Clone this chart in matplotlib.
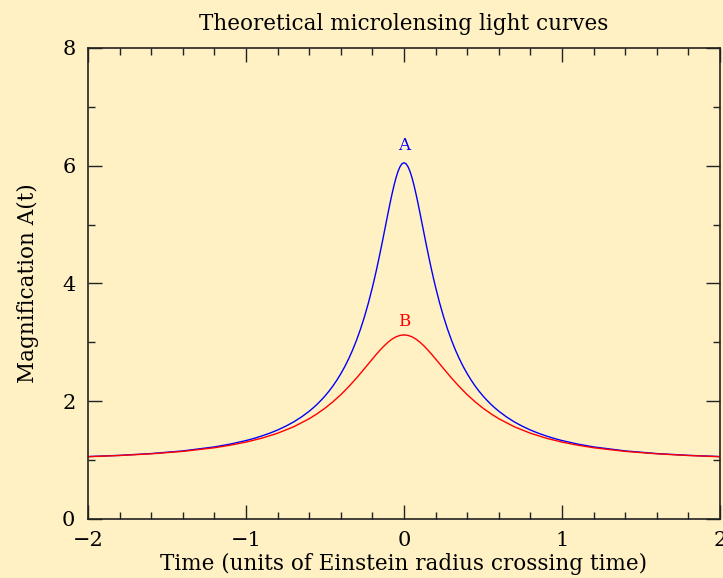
import matplotlib
matplotlib.use("Agg")
import matplotlib.pyplot as plt
from matplotlib.ticker import MultipleLocator
import numpy as np

# time in units of the Einstein radius crossing time, curve A (denser near the peak)
time_a = [-2.0, -1.8, -1.6, -1.4, -1.2, -1.1, -1.0, -0.95, -0.9, -0.85, -0.8,
          -0.75, -0.7, -0.65, -0.6, -0.575, -0.55, -0.525, -0.5, -0.475, -0.45,
          -0.425, -0.4, -0.375, -0.35, -0.325, -0.3, -0.275, -0.25, -0.225,
          -0.2, -0.1875, -0.175, -0.1625, -0.15, -0.1375, -0.125, -0.1125,
          -0.1, -0.0875, -0.075, -0.0625, -0.05, -0.0375, -0.025, -0.0125,
          0.0,
          0.0125, 0.025, 0.0375, 0.05, 0.0625, 0.075, 0.0875, 0.1, 0.1125,
          0.125, 0.1375, 0.15, 0.1625, 0.175, 0.1875, 0.2, 0.225, 0.25, 0.275,
          0.3, 0.325, 0.35, 0.375, 0.4, 0.425, 0.45, 0.475, 0.5, 0.525, 0.55,
          0.575, 0.6, 0.65, 0.7, 0.75, 0.8, 0.85, 0.9, 0.95, 1.0, 1.1, 1.2,
          1.4, 1.6, 1.8, 2.0]

# magnification A(t) of the close-approach event
mag_a = [1.060, 1.081, 1.111, 1.156, 1.224, 1.272, 1.332, 1.368, 1.410, 1.457,
         1.511, 1.574, 1.646, 1.731, 1.830, 1.887, 1.948, 2.016, 2.089, 2.170,
         2.259, 2.358, 2.467, 2.587, 2.722, 2.872, 3.040, 3.228, 3.438, 3.673,
         3.935, 4.076, 4.224, 4.378, 4.539, 4.703, 4.872, 5.041, 5.210, 5.375,
         5.531, 5.675, 5.802, 5.907, 5.985, 6.034,
         6.050,
         6.034, 5.985, 5.907, 5.802, 5.675, 5.531, 5.375, 5.210, 5.041, 4.872,
         4.703, 4.539, 4.378, 4.224, 4.076, 3.935, 3.673, 3.438, 3.228, 3.040,
         2.872, 2.722, 2.587, 2.467, 2.358, 2.259, 2.170, 2.089, 2.016, 1.948,
         1.887, 1.830, 1.731, 1.646, 1.574, 1.511, 1.457, 1.410, 1.368, 1.332,
         1.272, 1.224, 1.156, 1.111, 1.081, 1.060]

# time grid for curve B
time_b = [-2.0, -1.8, -1.6, -1.4, -1.2, -1.1, -1.0, -0.9, -0.8, -0.7, -0.6,
          -0.55, -0.5, -0.45, -0.4, -0.35, -0.3, -0.25, -0.2, -0.175, -0.15,
          -0.125, -0.1, -0.075, -0.05, -0.025, 0.0, 0.025, 0.05, 0.075, 0.1,
          0.125, 0.15, 0.175, 0.2, 0.25, 0.3, 0.35, 0.4, 0.45, 0.5, 0.55, 0.6,
          0.7, 0.8, 0.9, 1.0, 1.1, 1.2, 1.4, 1.6, 1.8, 2.0]

# magnification A(t) of the wider-approach event
mag_b = [1.058, 1.078, 1.107, 1.148, 1.210, 1.253, 1.306, 1.372, 1.457, 1.564,
         1.703, 1.787, 1.882, 1.990, 2.111, 2.247, 2.396, 2.555, 2.718, 2.797,
         2.873, 2.943, 3.005, 3.056, 3.095, 3.118, 3.127, 3.118, 3.095, 3.056,
         3.005, 2.943, 2.873, 2.797, 2.718, 2.555, 2.396, 2.247, 2.111, 1.990,
         1.882, 1.787, 1.703, 1.564, 1.457, 1.372, 1.306, 1.253, 1.210, 1.148,
         1.107, 1.078, 1.058]

curve_names = ["A", "B"]
curve_colors = ["#0000ff", "#ff0000"]

bg = "#fff1c4"
ink = "#222222"

plt.rcParams["font.family"] = ["DejaVu Serif"]

fig = plt.figure(figsize=(7.23, 5.78), dpi=100, facecolor=bg)
ax = fig.add_axes([0.1217, 0.1021, 0.8742, 0.8149], facecolor=bg)

# label each curve just above its peak
for t, mag, name, color, off in zip([time_a, time_b], [mag_a, mag_b],
                                    curve_names, curve_colors, [9.5, 6.5]):
    ax.plot(t, mag, color=color, lw=1.0)
    peak = int(np.argmax(mag))
    ax.annotate(name, (t[peak], mag[peak]), xytext=(0, off),
                textcoords="offset points", ha="center", va="baseline",
                color=color, fontsize=12)

ax.set_xlim(-2, 2)
ax.set_ylim(0, 8)
ax.xaxis.set_major_locator(MultipleLocator(1))
ax.xaxis.set_minor_locator(MultipleLocator(0.2))
ax.yaxis.set_major_locator(MultipleLocator(2))
ax.yaxis.set_minor_locator(MultipleLocator(1))
ax.tick_params(which="both", direction="in", top=True, right=True,
               color=ink, labelsize=15, labelcolor="black")
ax.tick_params(which="major", length=10, width=1.0, pad=9)
ax.tick_params(which="minor", length=5, width=1.0)
for s in ax.spines.values():
    s.set_color(ink)
    s.set_linewidth(1.2)

ax.set_title("Theoretical microlensing light curves", fontsize=15.5, pad=13)
ax.set_xlabel("Time (units of Einstein radius crossing time)", fontsize=15.5,
              labelpad=2)
ax.set_ylabel("Magnification A(t)", fontsize=15.5, labelpad=17)

fig.savefig("out.png", dpi=100, facecolor=bg)
